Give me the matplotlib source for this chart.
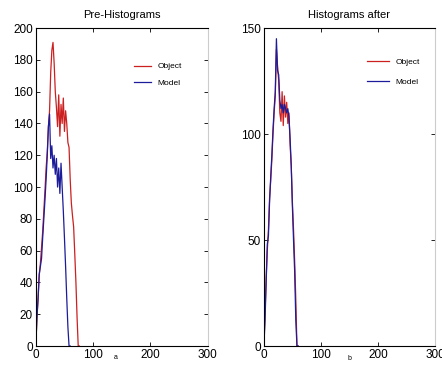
import numpy as np
import matplotlib
matplotlib.use("Agg")
import matplotlib.pyplot as plt

plt.rcParams['font.family'] = ['Liberation Sans', 'DejaVu Sans']

# --------- Data ---------
pre_x_obj = list(range(0, 78, 2))
pre_object = [0, 18, 30, 45, 52, 62, 72, 85, 98, 112, 122, 138, 148, 172, 186, 191,
              178, 160, 150, 138, 158, 132, 152, 140, 156, 135, 148, 140, 128, 125,
              105, 90, 82, 75, 58, 40, 18, 0, 0]
pre_x_mod = list(range(0, 62, 2))
pre_model = [0, 18, 30, 45, 50, 55, 68, 80, 92, 105, 120, 138, 146, 118, 126, 112,
             120, 108, 118, 100, 112, 96, 115, 100, 85, 68, 50, 30, 12, 0, 0]

post_x = list(range(0, 62, 2))
post_object = [0, 15, 32, 45, 55, 70, 78, 88, 100, 110, 118, 140, 132, 125, 110, 106,
               120, 104, 118, 108, 115, 105, 110, 95, 85, 68, 55, 40, 22, 0, 0]
post_model = [0, 12, 30, 48, 52, 68, 80, 90, 102, 112, 120, 145, 130, 128, 116, 112,
              114, 110, 114, 112, 110, 112, 108, 98, 85, 66, 50, 35, 12, 0, 0]

titles = ["Pre-Histograms", "Histograms after"]
sub_labels = ["a", "b"]
series_names = ["Object", "Model"]

RED = '#cc2020'
BLUE = '#1c1c9a'

fig = plt.figure(figsize=(4.42, 3.65), dpi=100)
ax1 = fig.add_axes([0.081, 0.052, 0.389, 0.871])
ax2 = fig.add_axes([0.597, 0.052, 0.387, 0.871])


def style_axes(ax, yticks, ymax):
    ax.set_xlim(0, 300)
    ax.set_ylim(0, ymax)
    ax.set_xticks([0, 100, 200, 300])
    ax.set_yticks(yticks)
    ax.tick_params(direction='in', length=3, width=0.6, labelsize=8.5, pad=2,
                   top=True, right=True, colors='black')
    for s in ax.spines.values():
        s.set_linewidth(0.8)
    ax.spines['right'].set_color('#cccccc')


ax1.plot(pre_x_obj, pre_object, color=RED, lw=0.9, label=series_names[0])
ax1.plot(pre_x_mod, pre_model, color=BLUE, lw=0.9, label=series_names[1])
style_axes(ax1, range(0, 201, 20), 200)
ax1.set_title(titles[0], fontsize=8, pad=7)
ax1.text(140, -7.5, sub_labels[0], fontsize=5, ha='center', va='center')
ax1.legend(loc='upper right', bbox_to_anchor=(0.895, 0.915), frameon=False,
           fontsize=6, handlelength=2.0, labelspacing=1.05)

ax2.plot(post_x, post_object, color=RED, lw=0.9, label=series_names[0])
ax2.plot(post_x, post_model, color=BLUE, lw=0.9, label=series_names[1])
style_axes(ax2, [0, 50, 100, 150], 150)
ax2.set_title(titles[1], fontsize=8, pad=7)
ax2.text(150, -5.7, sub_labels[1], fontsize=5, ha='center', va='center')
ax2.legend(loc='upper right', bbox_to_anchor=(0.955, 0.93), frameon=False,
           fontsize=6, handlelength=2.6, labelspacing=1.45)

fig.savefig('out.png', dpi=100)
